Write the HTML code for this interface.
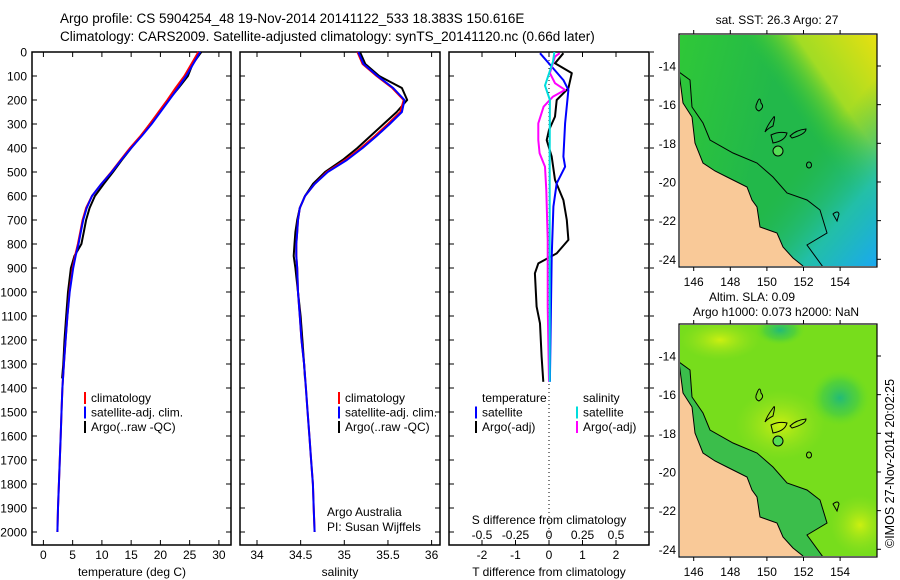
<!DOCTYPE html>
<html><head><meta charset="utf-8"><style>
body{margin:0;background:#fff;}
svg{display:block;font-family:"Liberation Sans",sans-serif;}
</style></head><body>
<svg id="fig" width="900" height="580" xmlns="http://www.w3.org/2000/svg">
<defs>
<linearGradient id="sstYellow" x1="1" y1="0" x2="0.45" y2="0.45"><stop offset="0" stop-color="#e8e010"/><stop offset="0.45" stop-color="#b0e020" stop-opacity="0.9"/><stop offset="0.75" stop-color="#33c833" stop-opacity="0"/></linearGradient>
<linearGradient id="sstBlue" x1="1" y1="1" x2="0.45" y2="0.45"><stop offset="0" stop-color="#1aa8f0"/><stop offset="0.35" stop-color="#22c0b8" stop-opacity="0.85"/><stop offset="0.75" stop-color="#22b860" stop-opacity="0"/></linearGradient>
<linearGradient id="sstLeft" x1="0" y1="0" x2="1" y2="0.3"><stop offset="0" stop-color="#33cc33" stop-opacity="0.8"/><stop offset="0.5" stop-color="#33cc33" stop-opacity="0"/></linearGradient>
<radialGradient id="slaEddy" cx="0.5" cy="0.5" r="0.5"><stop offset="0" stop-color="#22bb77"/><stop offset="0.6" stop-color="#44cc44" stop-opacity="0.7"/><stop offset="1" stop-color="#66dd22" stop-opacity="0"/></radialGradient>
<radialGradient id="slaYellow" cx="0.5" cy="0.5" r="0.5"><stop offset="0" stop-color="#ccf010"/><stop offset="1" stop-color="#99e020" stop-opacity="0"/></radialGradient>
<clipPath id="clipMap"><rect x="680" y="35" width="197" height="231"/></clipPath>
</defs>
<g id="titles">
<text x="60" y="23" font-size="13.5">Argo profile: CS 5904254_48 19-Nov-2014 20141122_533 18.383S 150.616E</text>
<text x="60" y="41" font-size="13.5">Climatology: CARS2009. Satellite-adjusted climatology: synTS_20141120.nc (0.66d later)</text>
</g>
<g id="panels"></g>
<g id="maps"></g>
<text transform="translate(894,548) rotate(-90)" font-size="12.5">©IMOS 27-Nov-2014 20:02:25</text>
</svg>
<script>
// ---- data ----
const depthGrid = [0,50,100,150,200,250,300,350,400,450,500,550,600,650,700,750,800,850,900,1000,1100,1200,1300,1400,1500,1600,1700,1800,1900,2000];
const tempClim = [26.5,25.3,24.1,22.6,21.2,19.7,18.2,16.6,14.8,13.2,11.6,9.9,8.3,7.3,6.7,6.3,5.9,5.4,5.0,4.45,4.1,3.8,3.5,3.25,3.1,2.95,2.8,2.65,2.5,2.4];
const tempSat = [26.8,25.6,24.4,23.0,21.5,20.0,18.5,16.8,15.0,13.3,11.7,9.9,8.3,7.4,6.8,6.4,6.0,5.5,5.1,4.5,4.1,3.8,3.5,3.25,3.1,2.95,2.8,2.65,2.5,2.4];
const argoDepth = [0,50,100,150,200,250,300,350,400,450,500,550,600,650,700,750,800,850,900,1000,1100,1200,1300,1360];
const tempArgo = [27.0,25.5,24.7,23.1,21.4,19.8,18.2,16.7,15.0,13.4,11.9,10.3,8.8,7.9,7.3,6.9,6.5,5.3,4.7,4.2,3.9,3.6,3.4,3.2];
const salClim = [35.15,35.21,35.37,35.55,35.68,35.64,35.5,35.35,35.19,35.01,34.8,34.66,34.55,34.49,34.47,34.46,34.45,34.45,34.46,34.47,34.49,34.51,34.54,34.56,34.58,34.6,34.62,34.64,34.65,34.66];
const salSat = [35.16,35.22,35.38,35.56,35.69,35.66,35.52,35.37,35.21,35.03,34.81,34.66,34.55,34.49,34.47,34.46,34.45,34.45,34.46,34.47,34.49,34.51,34.54,34.56,34.58,34.6,34.62,34.64,34.65,34.66];
const salArgo = [35.18,35.24,35.4,35.66,35.72,35.6,35.45,35.3,35.15,34.98,34.78,34.64,34.55,34.49,34.46,34.44,34.43,34.42,34.44,34.47,34.5,34.52,34.54,34.55];
const dTDepthArgo = [5,47,88,151,200,269,325,367,436,533,617,700,783,839,881,922,1061,1131,1269,1374];
const dTArgo = [0.43,0.18,0.68,0.58,0.23,0.18,0,-0.07,0.08,0.18,0.43,0.53,0.58,0.23,-0.32,-0.42,-0.37,-0.27,-0.22,-0.17];
const dTDepthSat = [5,61,117,158,297,436,478,547,644,853,1339,1374];
const dTSat = [-0.27,0.08,0.43,0.58,0.48,0.43,0.48,0.23,0.13,0.08,0.03,0.03];
const dSDepthArgo = [5,19,88,130,158,186,228,297,367,422,478,575,783,1061,1374];
const dSArgo = [0.08,0.045,0.007,0.045,0.12,0.03,-0.04,-0.08,-0.08,-0.07,-0.03,-0.02,-0.01,-0.01,0.0];
const dSDepthSat = [0,40,90,140,200,400,800,1374];
const dSSat = [0.04,0.03,0,-0.03,0.007,0.005,0.005,0.005];
const depthTicks = [0,100,200,300,400,500,600,700,800,900,1000,1100,1200,1300,1400,1500,1600,1700,1800,1900,2000];
const tempTicks = [0,5,10,15,20,25,30];
const salTicks = [34,34.5,35,35.5,36];
const salTickLabels = ["34","34.5","35","35.5","36"];
const dTTicks = [-2,-1,0,1,2];
const dSTicks = [-0.5,-0.25,0,0.25,0.5];
const lonTicks = [146,148,150,152,154];
const latTicks = [14,16,18,20,22,24];

const NS="http://www.w3.org/2000/svg";
function mk(tag, attrs, parent){const e=document.createElementNS(NS,tag);for(const k in attrs)e.setAttribute(k,attrs[k]);parent.appendChild(e);return e;}
const panels=document.getElementById('panels');
const TOP=52, BOT=545;
const yD = d => TOP + d*0.24;

function frame(x0,x1,name){
  const r=mk('rect',{x:x0,y:TOP,width:x1-x0,height:BOT-TOP,fill:'none',stroke:'#000','stroke-width':1.5},panels);
  
  
}
function line(xs,ds,sx,color,name,w){
  const pts=xs.map((v,i)=>sx(v).toFixed(1)+','+yD(ds[i]).toFixed(1)).join(' ');
  const p=mk('polyline',{points:pts,fill:'none',stroke:color,'stroke-width':w||2,'stroke-linejoin':'round'},panels);
  
  
}
function txt(x,y,s,anchor,size,parent,name){
  const t=mk('text',{x:x,y:y,'font-size':size||12,'text-anchor':anchor||'start'},parent||panels);
  t.textContent=s;
  
  
  return t;
}
function xticks(sx,ticks,labels,x0,x1,name){
  ticks.forEach((v,i)=>{
    const x=sx(v);
    mk('line',{x1:x,y1:BOT,x2:x,y2:BOT-5,stroke:'#000'},panels);
    mk('line',{x1:x,y1:TOP,x2:x,y2:TOP+5,stroke:'#000'},panels);
    if(labels) txt(x,559,labels[i],'middle',12,panels,name);
  });
}
// panel 1: temperature
const sxT = v => 43.4 + v*5.85;
frame(32,231,'temperature-panel');
depthTicks.forEach(d=>{
  mk('line',{x1:32,y1:yD(d),x2:37,y2:yD(d),stroke:'#000'},panels);
  mk('line',{x1:226,y1:yD(d),x2:231,y2:yD(d),stroke:'#000'},panels);
  mk('line',{x1:650,y1:yD(d),x2:654,y2:yD(d),stroke:'#000'},panels);
  txt(27,yD(d)+4.5,String(d),'end',12,panels,'depth-tick-label');
});
xticks(sxT,tempTicks,tempTicks.map(String),32,231,'temperature-tick-label');
line(tempArgo,argoDepth,sxT,'#000','temperature-argo-line');
line(tempClim,depthGrid,sxT,'#f00','temperature-climatology-line');
line(tempSat,depthGrid,sxT,'#00f','temperature-satellite-line');
txt(132,576,'temperature (deg C)','middle',12,panels,'temperature-axis-title');
// panel 2: salinity
const sxS = v => 257 + (v-34)*87.3;
frame(240,440,'salinity-panel');
depthTicks.forEach(d=>{
  mk('line',{x1:240,y1:yD(d),x2:245,y2:yD(d),stroke:'#000'},panels);
  mk('line',{x1:435,y1:yD(d),x2:440,y2:yD(d),stroke:'#000'},panels);
});
xticks(sxS,salTicks,salTickLabels,240,440,'salinity-tick-label');
line(salArgo,argoDepth,sxS,'#000','salinity-argo-line');
line(salClim,depthGrid,sxS,'#f00','salinity-climatology-line');
line(salSat,depthGrid,sxS,'#00f','salinity-satellite-line');
txt(340,576,'salinity','middle',12,panels,'salinity-axis-title');
txt(327,516,'Argo Australia','start',12,panels,'credit-argo-australia');
txt(327,531,'PI: Susan Wijffels','start',12,panels,'credit-pi');
// panel 3: differences
const sxdT = v => 549 + v*33.5;
const sxdS = v => 549 + v*134;
frame(449,649,'difference-panel');
depthTicks.forEach(d=>{
  mk('line',{x1:449,y1:yD(d),x2:454,y2:yD(d),stroke:'#000'},panels);
  mk('line',{x1:644,y1:yD(d),x2:649,y2:yD(d),stroke:'#000'},panels);
});
mk('line',{x1:549,y1:TOP,x2:549,y2:BOT,stroke:'#000','stroke-dasharray':'1,3'},panels);
xticks(sxdT,dTTicks,dTTicks.map(String),449,649,'t-diff-tick-label');
dSTicks.forEach(v=>txt(sxdS(v),539,String(v),'middle',12,panels,'s-diff-tick-label'));
txt(549,524,'S difference from climatology','middle',12,panels,'s-diff-axis-title');
txt(549,576,'T difference from climatology','middle',12,panels,'t-diff-axis-title');
line(dTArgo,dTDepthArgo,sxdT,'#000','t-diff-argo-line');
line(dTSat,dTDepthSat,sxdT,'#00f','t-diff-satellite-line');
line(dSArgo,dSDepthArgo,sxdS,'#f0f','s-diff-argo-line');
line(dSSat,dSDepthSat,sxdS,'#0dd','s-diff-satellite-line');
// legends
function legend(x,y,color,label){
  const g=mk('g',{},panels);
  
  
  mk('rect',{x:x,y:y-10,width:2,height:12,fill:color},g);
  txt(x+7,y,label,'start',12,g,'legend-label');
}
[['#f00','climatology'],['#00f','satellite-adj. clim.'],['#000','Argo(..raw -QC)']].forEach((e,i)=>{
  legend(84,402+i*14.5,e[0],e[1]); legend(338,402+i*14.5,e[0],e[1]);
});
txt(482,402,'temperature','start',12,panels,'legend-heading-temperature');
txt(583,402,'salinity','start',12,panels,'legend-heading-salinity');
legend(475,416.5,'#00f','satellite'); legend(475,431,'#000','Argo(-adj)');
legend(576,416.5,'#0dd','satellite'); legend(576,431,'#f0f','Argo(-adj)');

// ---- maps ----
const maps=document.getElementById('maps');
const lonX = v => 693.7 + (v-146)*18.3;
const latY = v => 66 + (v-14)*19.33;
const landPts="679,72 683,103 692,117 695,143 703,163 715,171 727,177 747,187 752,200 757,207 760,227 777,233 783,247 793,258 803,266 679,266";
const shelf="M679,72 L690,80 L692,107 L703,123 L710,140 L733,153 L757,163 L773,177 L787,193 L807,200 L820,210 L827,233 L807,245 L823,267";
function drawMap(dy,kind,name){
  const g=mk('g',{transform:'translate(0,'+dy+')'},maps);
  
  
  const c=mk('g',{'clip-path':'url(#clipMap)'},g);
  if(kind==='sst'){
    mk('rect',{x:680,y:35,width:197,height:231,fill:'#22b84a'},c);
    mk('rect',{x:680,y:35,width:197,height:231,fill:'url(#sstLeft)'},c);
    mk('rect',{x:680,y:35,width:197,height:231,fill:'url(#sstYellow)'},c);
    mk('rect',{x:680,y:35,width:197,height:231,fill:'url(#sstBlue)'},c);
  } else {
    mk('rect',{x:680,y:35,width:197,height:231,fill:'#77dd1c'},c);
    mk('ellipse',{cx:780,cy:135,rx:45,ry:35,fill:'url(#slaYellow)'},c);
    mk('ellipse',{cx:860,cy:235,rx:30,ry:30,fill:'url(#slaYellow)'},c);
    mk('ellipse',{cx:720,cy:50,rx:40,ry:20,fill:'url(#slaYellow)'},c);
    mk('ellipse',{cx:840,cy:108,rx:30,ry:28,fill:'url(#slaEddy)'},c);
    mk('ellipse',{cx:780,cy:40,rx:25,ry:15,fill:'url(#slaEddy)'},c);
    mk('path',{d:shelf+' L680,266 Z',fill:'#22b060',opacity:0.7},c);
  }
  mk('polygon',{points:landPts,fill:'#f9c998'},c);
  mk('polyline',{points:landPts.split(' ').slice(0,15).join(' '),fill:'none',stroke:'#000','stroke-width':1},c);
  mk('path',{d:shelf,fill:'none',stroke:'#000','stroke-width':1},c);
  mk('path',{d:'M757,103 q3,-8 4,0 q4,4 -2,8 q-5,-2 -2,-8 M773,118 q3,-5 0,8 q-6,3 -8,6 q2,-6 8,-14 M771,135 q8,-4 16,-2 q-2,8 -14,10 z M790,136 q6,-6 16,-7 q0,5 -14,9 z M833,214 q5,-4 6,0 l-2,7 z',fill:'none',stroke:'#000','stroke-width':1},c);
  mk('circle',{cx:778,cy:151,r:5,fill:'#5d5',stroke:'#000','stroke-width':1},c);
  mk('ellipse',{cx:809,cy:165,rx:2.5,ry:3,fill:'none',stroke:'#000','stroke-width':1},c);
  const f=mk('rect',{x:679,y:34,width:198,height:233,fill:'none',stroke:'#000','stroke-width':1.2},g);
  
  
  lonTicks.forEach(v=>{
    const x=lonX(v);
    mk('line',{x1:x,y1:34,x2:x,y2:30,stroke:'#000'},g);
    mk('line',{x1:x,y1:267,x2:x,y2:271,stroke:'#000'},g);
    txt(x,286,String(v),'middle',12,g,'map-lon-tick-label');
  });
  latTicks.forEach(v=>{
    const y=latY(v);
    mk('line',{x1:877,y1:y,x2:881,y2:y,stroke:'#000'},g);
    txt(676,y+4.5,'-'+v,'end',12,g,'map-lat-tick-label');
  });
}
drawMap(0,'sst','sst-map');
drawMap(290,'sla','sla-map');
txt(777,24,'sat. SST: 26.3 Argo: 27','middle',12,maps,'sst-map-title');
txt(752,301,'Altim. SLA: 0.09','middle',12,maps,'sla-map-title');
txt(776,316,'Argo h1000: 0.073 h2000: NaN','middle',12,maps,'sla-map-subtitle');
</script>
</body></html>
